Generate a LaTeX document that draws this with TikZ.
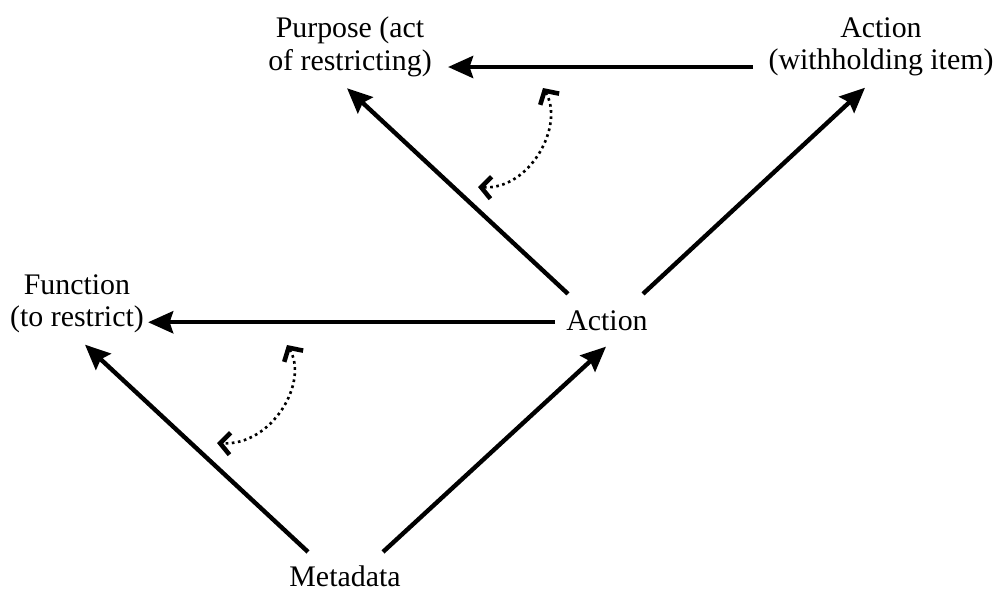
\documentclass[tikz,border=0pt]{standalone}
\usepackage{fontspec}
\setmainfont{Liberation Serif}
\usetikzlibrary {arrows.meta,
                 calc,
                 positioning}
\tikzset{
        lbl/.style={align=center, inner sep=0pt,
                    font=\fontsize{17}{18.5}\selectfont},
        myarrow/.style={-{Stealth[length=5mm, width=4.4mm, inset=0.7mm]},
                        line width=2.5pt},
        dotarrow/.style={{Straight Barb[length=2mm, width=4.4mm, line width=2.6pt]}-%
                         {Straight Barb[length=2mm, width=4.4mm, line width=2.6pt]},
                         dotted, line width=1.5pt},
 }

\begin{document}
\begin{tikzpicture}[x=0.2mm, y=-0.2mm]
    \useasboundingbox (0,0) rectangle (996,591);

    \node[lbl] (pur) at (350,47) {Purpose (act\\of restricting)};
    \node[lbl] (wit) at (881,47) {Action\\(withholding item)};
    \node[lbl] (fun) at (77,304) {Function\\(to restrict)};
    \node[lbl, anchor=base] (act) at (607,330) {Action};
    \node[lbl, anchor=base] (met) at (345,586) {Metadata};

    \coordinate (u1) at (543,88);
    \coordinate (u2) at (478,187);
    \coordinate (l1) at (287,345);
    \coordinate (l2) at (217,443);

    \draw[myarrow] ($(wit.west)+(-15,20)$) -- ($(pur.east)+(16,20)$);
    \draw[myarrow] ($(act.west)+(-11,2)$) -- ($(fun.east |- act.west)+(4,2)$);
    \draw[myarrow] ($(act.north west)+(2,-16)$) -- ($(pur.south)+(-3,11)$);
    \draw[myarrow] ($(act.north east)+(-5,-16)$) -- ($(wit.south)+(-16,11)$);
    \draw[myarrow] ($(met.north)+(-37,-13)$) -- ($(fun.south)+(8,11)$);
    \draw[myarrow] ($(met.north)+(38,-13)$) -- ($(act.south)+(-1,16)$);

    \draw[dotarrow] (u1) .. controls (565,125) and (530,190) .. (u2);
    \draw[dotarrow] (l1) .. controls (309,382) and (272,446) .. (l2);

\end{tikzpicture}
\end{document}
